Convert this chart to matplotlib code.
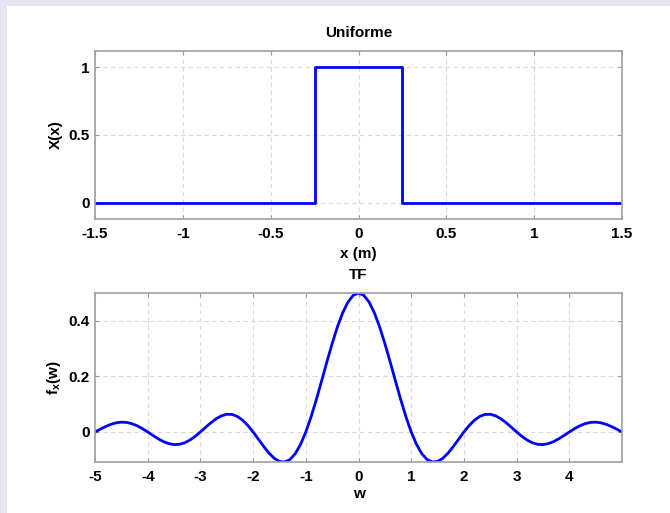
import numpy as np
import matplotlib.pyplot as plt
from matplotlib.patches import Rectangle

plt.rcParams['font.family'] = ['Liberation Sans', 'DejaVu Sans']
plt.rcParams['font.size'] = 11
plt.rcParams['font.weight'] = 'bold'
plt.rcParams['axes.labelweight'] = 'bold'
plt.rcParams['axes.unicode_minus'] = False

# rozklad jednostajny na [-0.25, 0.25]
x = [-1.5, -0.25, -0.25, 0.25, 0.25, 1.5]
X = [0, 0, 1, 1, 0, 0]

# transformata
w = [round(-5 + 0.1 * i, 1) for i in range(101)]
fx = [0.0, 0.0100, 0.0195, 0.0274, 0.0329, 0.0354, 0.0344, 0.0299, 0.0223, 0.0120,
      0.0, -0.0126, -0.0246, -0.0348, -0.0420, -0.0455, -0.0445, -0.0390, -0.0292, -0.0159,
      0.0, 0.0170, 0.0334, 0.0477, 0.0582, 0.0637, 0.0631, 0.0560, 0.0425, 0.0234,
      0.0, -0.0259, -0.0520, -0.0757, -0.0946, -0.1061, -0.1081, -0.0990, -0.0780, -0.0447,
      0.0, 0.0546, 0.1169, 0.1839, 0.2523, 0.3183, 0.3784, 0.4292, 0.4677, 0.4918,
      0.5,
      0.4918, 0.4677, 0.4292, 0.3784, 0.3183, 0.2523, 0.1839, 0.1169, 0.0546, 0.0,
      -0.0447, -0.0780, -0.0990, -0.1081, -0.1061, -0.0946, -0.0757, -0.0520, -0.0259, 0.0,
      0.0234, 0.0425, 0.0560, 0.0631, 0.0637, 0.0582, 0.0477, 0.0334, 0.0170, 0.0,
      -0.0159, -0.0292, -0.0390, -0.0445, -0.0455, -0.0420, -0.0348, -0.0246, -0.0126, 0.0,
      0.0120, 0.0223, 0.0299, 0.0344, 0.0354, 0.0329, 0.0274, 0.0195, 0.0100, 0.0]

fig = plt.figure(figsize=(6.7, 5.13), dpi=100, facecolor='#e6e6f2')
fig.patches.append(Rectangle((7 / 670, 0), 1, 1 - 6 / 513, transform=fig.transFigure,
                             facecolor='white', edgecolor='none', zorder=-1))


def styl(ax):
    ax.grid(True, linestyle=(0, (4, 3)), color='#d9d9d9', linewidth=0.8)
    ax.tick_params(direction='in', top=True, right=True, length=3, color='#999999',
                   labelcolor='black')
    ax.tick_params(axis='x', pad=6)
    ax.tick_params(axis='y', pad=4)
    for s in ax.spines.values():
        s.set_color('#a0a0a0')
        s.set_linewidth(1.2)
    ax.set_axisbelow(True)


ax1 = fig.add_axes([0.1418, 0.5731, 0.7866, 0.3275])
ax1.plot(x, X, color='#0000ff', linewidth=2)
ax1.set_xlim(-1.5, 1.5)
ax1.set_ylim(-0.12, 1.12)
ax1.set_xticks([-1.5, -1, -0.5, 0, 0.5, 1, 1.5])
ax1.set_xticklabels(['-1.5', '-1', '-0.5', '0', '0.5', '1', '1.5'])
ax1.set_yticks([0, 0.5, 1])
ax1.set_yticklabels(['0', '0.5', '1'])
ax1.set_title('Uniforme', fontsize=11, fontweight='bold', pad=10)
ax1.set_xlabel('x (m)', labelpad=4)
ax1.set_ylabel('X(x)', labelpad=4)
styl(ax1)

ax2 = fig.add_axes([0.1418, 0.0994, 0.7866, 0.3294])
ax2.plot(w, fx, color='#0000ff', linewidth=2)
ax2.set_xlim(-5, 5)
ax2.set_ylim(min(fx), max(fx))
ax2.set_xticks(range(-5, 5))
ax2.set_yticks([0, 0.2, 0.4])
ax2.set_yticklabels(['0', '0.2', '0.4'])
ax2.set_title('TF', fontsize=11, fontweight='bold', pad=10)
ax2.set_xlabel('w', labelpad=2)
ax2.set_ylabel('f$_\\mathregular{x}$(w)', labelpad=4)
styl(ax2)

plt.savefig('out.png', dpi=100, facecolor=fig.get_facecolor())
